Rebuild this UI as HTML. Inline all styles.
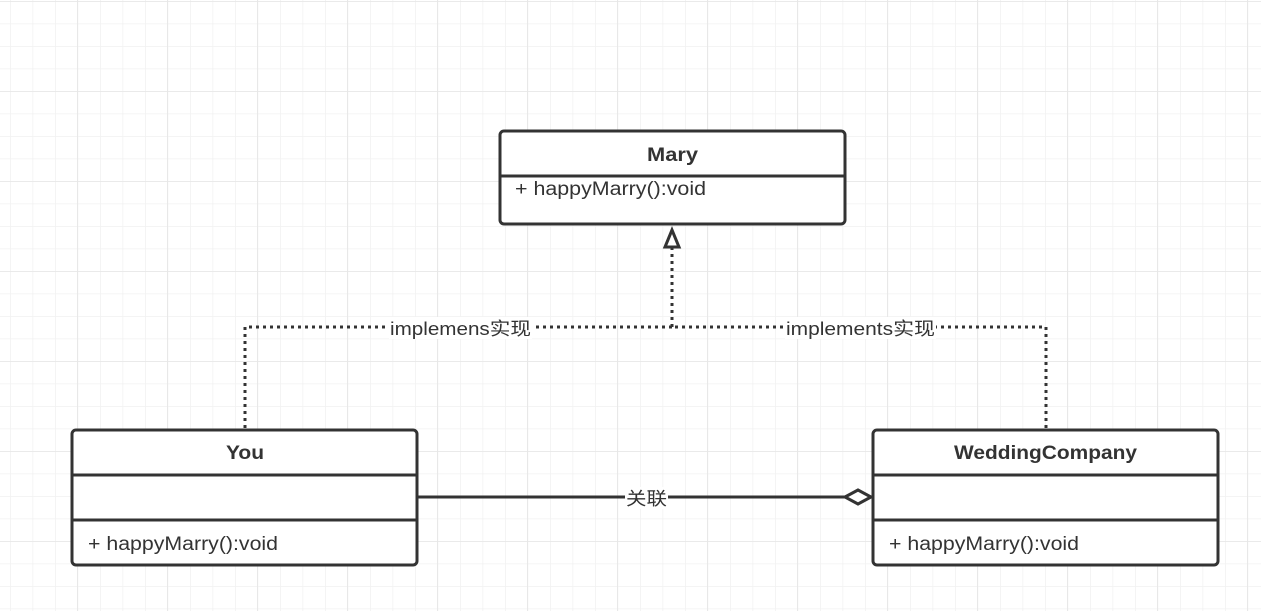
<!DOCTYPE html>
<html><head><meta charset="utf-8"><style>
html,body{margin:0;padding:0;background:#fff;}
svg{display:block;}
text{font-family:"Liberation Sans","Noto Sans CJK SC",sans-serif;fill:#333;}
</style></head><body>
<svg width="1261" height="611" viewBox="0 0 1261 611" xmlns="http://www.w3.org/2000/svg">
<defs>
<pattern id="minor" x="10" y="1" width="22.5" height="22.5" patternUnits="userSpaceOnUse">
<path d="M0 0V22.5M0 0H22.5" stroke="#f1f1f1" stroke-width="1.5" fill="none"/>
</pattern>
<pattern id="major" x="77" y="1" width="90" height="90" patternUnits="userSpaceOnUse">
<path d="M0 0V90M0 0H90" stroke="#e6e6e6" stroke-width="1.5" fill="none"/>
</pattern>
</defs>
<rect width="1261" height="611" fill="url(#minor)"/>
<rect width="1261" height="611" fill="url(#major)"/>

<g stroke="#333" stroke-width="3" fill="none" stroke-dasharray="3,4">
<path d="M245 428V327H672"/>
<path d="M1046 428V327H672"/>
<path d="M672 327V248"/>
</g>
<path d="M672 230L665 247H679Z" fill="#fff" stroke="#333" stroke-width="3"/>

<rect x="389" y="317" width="143" height="22" fill="#fff"/>
<text x="390" y="335" font-size="18" textLength="141" lengthAdjust="spacingAndGlyphs">implemens实现</text>
<rect x="785" y="317" width="151" height="22" fill="#fff"/>
<text x="786" y="335" font-size="18" textLength="149" lengthAdjust="spacingAndGlyphs">implements实现</text>

<path d="M417 497H845" stroke="#333" stroke-width="3"/>
<path d="M845 497L858 490L871 497L858 504Z" fill="#fff" stroke="#333" stroke-width="3"/>
<rect x="625" y="487" width="43" height="22" fill="#fff"/>
<text x="626" y="505" font-size="18" textLength="41" lengthAdjust="spacingAndGlyphs">关联</text>

<g stroke="#333" stroke-width="3" fill="#fff">
<rect x="500" y="131" width="345" height="93" rx="4"/>
<path d="M500 176H845"/>
<rect x="72" y="430" width="345" height="135" rx="4"/>
<path d="M72 475H417M72 520H417"/>
<rect x="873" y="430" width="345" height="135" rx="4"/>
<path d="M873 475H1218M873 520H1218"/>
</g>
<text x="647" y="161" font-size="19" font-weight="bold" textLength="51" lengthAdjust="spacingAndGlyphs">Mary</text>
<text x="515" y="195" font-size="19" textLength="191" lengthAdjust="spacingAndGlyphs">+ happyMarry():void</text>
<text x="226" y="459" font-size="19" font-weight="bold" textLength="38" lengthAdjust="spacingAndGlyphs">You</text>
<text x="88" y="550" font-size="19" textLength="190" lengthAdjust="spacingAndGlyphs">+ happyMarry():void</text>
<text x="954" y="459" font-size="19" font-weight="bold" textLength="183" lengthAdjust="spacingAndGlyphs">WeddingCompany</text>
<text x="889" y="550" font-size="19" textLength="190" lengthAdjust="spacingAndGlyphs">+ happyMarry():void</text>
</svg>
</body></html>
